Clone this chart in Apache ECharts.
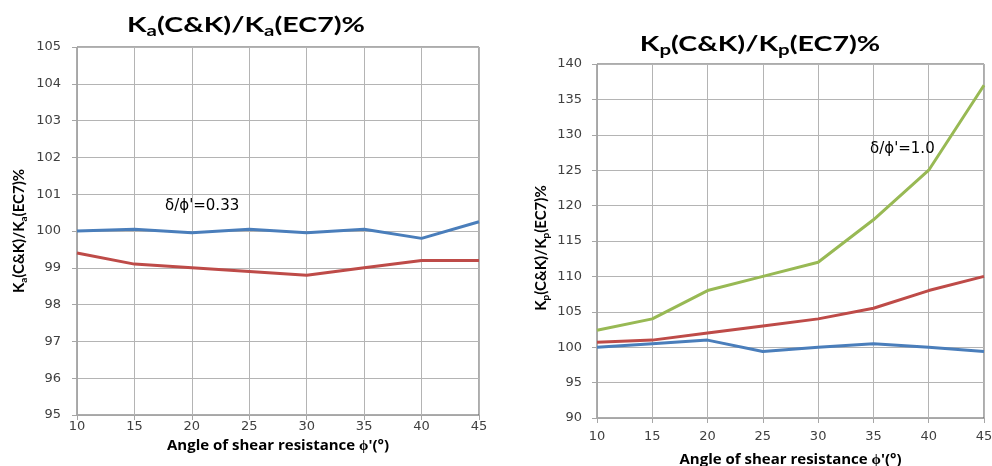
<!DOCTYPE html>
<html><head><meta charset="utf-8">
<script src="https://cdn.jsdelivr.net/npm/echarts@6/dist/echarts.min.js"></script>
<style>html,body{margin:0;padding:0;background:#fff}#c{width:992px;height:466px}</style>
</head><body><div id="c"></div>
<script>
var angles = [10, 15, 20, 25, 30, 35, 40, 45];
var kaBlue = [100.0, 100.05, 99.95, 100.05, 99.95, 100.05, 99.8, 100.25];
var kaRed  = [99.4, 99.1, 99.0, 98.9, 98.8, 99.0, 99.2, 99.2];
var kpBlue  = [100.0, 100.5, 101.0, 99.4, 100.0, 100.5, 100.0, 99.4];
var kpRed   = [100.7, 101.0, 102.0, 103.0, 104.0, 105.5, 108.0, 110.0];
var kpGreen = [102.4, 104.0, 108.0, 110.0, 112.0, 118.0, 125.0, 137.0];
var xName = "Angle of shear resistance \u03d5'(\u00b0)";
var noteKa = "\u03b4/\u03d5'=0.33";
var noteKp = "\u03b4/\u03d5'=1.0";

function pairs(vals){ return angles.map(function(a,i){ return [a, vals[i]]; }); }

var chart = echarts.init(document.getElementById('c'));
var gridLine = {show:true, lineStyle:{color:'#b4b4b4', width:1}};
var axLine = {show:true, lineStyle:{color:'#a6a6a6', width:1}};
var axTick = {show:true, inside:false, length:5, lineStyle:{color:'#a6a6a6'}};
var lbl = {color:'#404040', fontFamily:'DejaVu Sans', fontSize:13};

function xAx(gi, margin, gap){
  return {type:'value', gridIndex:gi, min:10, max:45, interval:5,
    axisLine:axLine, axisTick:axTick, splitLine:gridLine,
    axisLabel:Object.assign({margin:margin}, lbl),
    name:xName, nameLocation:'middle', nameGap:gap,
    nameTextStyle:{color:'#000', fontFamily:'Open Sans', fontWeight:'bold', fontSize:15}};
}
function yAx(gi, min, max, iv, margin){
  return {type:'value', gridIndex:gi, min:min, max:max, interval:iv,
    axisLine:axLine, axisTick:axTick, splitLine:gridLine,
    axisLabel:Object.assign({margin:margin}, lbl)};
}
function line(name, xi, vals, color){
  return {type:'line', name:name, xAxisIndex:xi, yAxisIndex:xi, data:pairs(vals),
    symbol:'none', lineStyle:{color:color, width:3}, itemStyle:{color:color}};
}
function richTitle(x, y, sub, big, small, rot, sx){
  var t = '{b|K}{s|'+sub+'}{b|(C&K)/K}{s|'+sub+'}{b|(EC7)%}';
  return {type:'text', x:x, y:y, rotation:rot||0, scaleX:sx||1, z:10,
    style:{text:t, textAlign:'center', textVerticalAlign:'middle', align:'center', verticalAlign:'middle',
      rich:{
        b:{fontFamily:'Lato', fontWeight:'bold', fontSize:big, lineHeight:big*1.3, fill:'#000', color:'#000'},
        s:{fontFamily:'Lato', fontWeight:'bold', fontSize:small, lineHeight:small, fill:'#000', color:'#000', verticalAlign:'bottom'}
      }}};
}

chart.setOption({
  animation:false,
  grid:[
    {left:77, right:513, top:47, bottom:51, show:true, borderColor:'#595959', borderWidth:1, containLabel:false, outerBoundsMode:'none'},
    {left:597, right:8, top:64, bottom:48, show:true, borderColor:'#595959', borderWidth:1, containLabel:false, outerBoundsMode:'none'}
  ],
  xAxis:[xAx(0, 5, 15), xAx(1, 12, 34)],
  yAxis:[yAx(0, 95, 105, 1, 16), yAx(1, 90, 140, 5, 15)],
  series:[
    line('Ka blue', 0, kaBlue, '#4a7ebb'),
    line('Ka red', 0, kaRed, '#be4b48'),
    line('Kp blue', 1, kpBlue, '#4a7ebb'),
    line('Kp red', 1, kpRed, '#be4b48'),
    line('Kp green', 1, kpGreen, '#98b954')
  ],
  graphic:[
    richTitle(246, 25, 'a', 21, 15, 0, 1.36),
    richTitle(760, 44, 'p', 21, 15, 0, 1.36),
    richTitle(19, 231, 'a', 15, 10, Math.PI/2),
    richTitle(541, 248, 'p', 15, 10, Math.PI/2),
    {type:'text', x:165, y:206, z:10, style:{text:noteKa, font:'15px "DejaVu Sans"', fill:'#000', textVerticalAlign:'middle', verticalAlign:'middle'}},
    {type:'text', x:870, y:149, z:10, style:{text:noteKp, font:'15px "DejaVu Sans"', fill:'#000', textVerticalAlign:'middle', verticalAlign:'middle'}}
  ]
});
</script></body></html>
